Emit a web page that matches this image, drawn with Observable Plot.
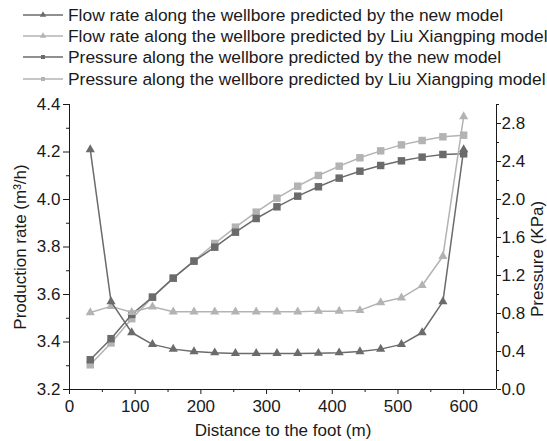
<!DOCTYPE html>
<html><head><meta charset="utf-8">
<script src="https://cdn.jsdelivr.net/npm/d3@7"></script>
<script src="https://cdn.jsdelivr.net/npm/@observablehq/plot@0.6"></script>
<style>
body{margin:0;background:#fff;font-family:"Liberation Sans",Arial,sans-serif;}
#legend{position:relative;height:90px;width:547px;}
.row{position:absolute;left:23px;height:20px;display:flex;align-items:center;font-size:17.4px;color:#1a1a1a;white-space:nowrap}
.row svg{margin-right:5px}
</style></head><body>
<div id="legend"></div><div id="chart"></div>
<script>
// Data
const distance = [31.6, 63.2, 94.7, 126.3, 157.9, 189.5, 221.1, 252.6, 284.2, 315.8, 347.4, 378.9, 410.5, 442.1, 473.7, 505.3, 536.8, 568.4, 600];
const flowNew = [4.21, 3.57, 3.44, 3.39, 3.37, 3.36, 3.355, 3.352, 3.352, 3.352, 3.352, 3.353, 3.355, 3.36, 3.37, 3.39, 3.44, 3.57, 4.21];
const flowLiu = [3.524, 3.55, 3.525, 3.548, 3.527, 3.527, 3.527, 3.527, 3.527, 3.527, 3.527, 3.53, 3.53, 3.533, 3.566, 3.586, 3.638, 3.761, 4.349];
const pressureNew = [0.313, 0.535, 0.79, 0.972, 1.172, 1.351, 1.498, 1.656, 1.8, 1.923, 2.035, 2.134, 2.225, 2.298, 2.358, 2.407, 2.446, 2.474, 2.481];
const pressureLiu = [0.26, 0.49, 0.745, 0.972, 1.172, 1.354, 1.537, 1.709, 1.867, 2.014, 2.14, 2.253, 2.351, 2.439, 2.512, 2.575, 2.621, 2.66, 2.677];

const xTicks = [0, 100, 200, 300, 400, 500, 600];
const xMinor = [50, 150, 250, 350, 450, 550];
const leftTicks = [3.2, 3.4, 3.6, 3.8, 4.0, 4.2, 4.4];
const leftMinor = [3.3, 3.5, 3.7, 3.9, 4.1, 4.3];
const rightTicks = [0.0, 0.4, 0.8, 1.2, 1.6, 2.0, 2.4, 2.8];
const rightMinor = [0.2, 0.6, 1.0, 1.4, 1.8, 2.2, 2.6, 3.0];

const seriesNames = [
  "Flow rate along the wellbore predicted by the new model",
  "Flow rate along the wellbore predicted by Liu Xiangping model",
  "Pressure along the wellbore predicted by the new model",
  "Pressure along the wellbore predicted by Liu Xiangping model"
];
const dark = "#6b6b6b", light = "#b3b3b3";
const seriesColors = [dark, light, dark, light];
const seriesSymbols = ["triangle", "triangle", "square", "square"];

// pressure axis mapped onto the production-rate scale
const yMin = 3.2, yMax = 4.4, pMax = 3.0;
const toY = p => yMin + p * (yMax - yMin) / pMax;
const fromY = v => (v - yMin) * pMax / (yMax - yMin);

// Legend
const legend = d3.select("#legend");
const rowTops = [5, 26, 47, 69];
seriesNames.forEach((name, i) => {
  const row = legend.append("div").attr("class", "row").style("top", rowTops[i] + "px");
  const svg = row.append("svg").attr("width", 40).attr("height", 20);
  svg.append("line").attr("x1", 0).attr("x2", 40).attr("y1", 10).attr("y2", 10)
    .attr("stroke", seriesColors[i]).attr("stroke-width", 1.5);
  const sym = seriesSymbols[i] === "triangle" ? d3.symbolTriangle : d3.symbolSquare;
  svg.append("path").attr("d", d3.symbol(sym, seriesSymbols[i] === "triangle" ? 18 : 16)())
    .attr("transform", "translate(20,10)").attr("fill", seriesColors[i]);
  row.append("span").text(name);
});

const xOf = (d, i) => distance[i];
const chart = Plot.plot({
  width: 547, height: 351,
  marginTop: 14, marginBottom: 52, marginLeft: 69, marginRight: 51,
  style: {fontSize: "17px", fontFamily: "'Liberation Sans', Arial, sans-serif", color: "#1a1a1a", background: "white"},
  x: {domain: [0, 650]},
  y: {domain: [yMin, yMax]},
  marks: [
    Plot.axisX(xTicks, {tickSize: 5, tickPadding: 5, label: null, tickFormat: d => String(d)}),
    Plot.axisX(xMinor, {tickSize: 3, tickFormat: () => "", label: null}),
    Plot.axisY(leftTicks, {anchor: "left", tickSize: 6, tickPadding: 3, tickFormat: d => d.toFixed(1), label: null}),
    Plot.axisY(leftMinor, {anchor: "left", tickSize: 3, tickFormat: () => "", label: null}),
    Plot.axisY(rightTicks.map(toY), {anchor: "right", tickSize: 4, tickPadding: 1, tickFormat: v => fromY(v).toFixed(1), label: null}),
    Plot.axisY(rightMinor.map(toY), {anchor: "right", tickSize: 2, tickFormat: () => "", label: null}),
    Plot.ruleX([0, 650], {stroke: "#1a1a1a"}),
    Plot.ruleY([yMin], {stroke: "#1a1a1a"}),
    Plot.text(["Distance to the foot (m)"], {frameAnchor: "bottom", dy: 41, lineAnchor: "middle", textAnchor: "middle", fontSize: 17}),
    Plot.text(["Production rate (m³/h)"], {frameAnchor: "left", dx: -49, rotate: -90, lineAnchor: "middle", textAnchor: "middle", fontSize: 17}),
    Plot.text(["Pressure (KPa)"], {frameAnchor: "right", dx: 41, dy: 12, rotate: -90, lineAnchor: "middle", textAnchor: "middle", fontSize: 17}),

    Plot.line(pressureLiu, {x: xOf, y: p => toY(p), stroke: light, strokeWidth: 1.5}),
    Plot.dot(pressureLiu, {x: xOf, y: p => toY(p), symbol: "square", r: 4.2, fill: light}),
    Plot.line(pressureNew, {x: xOf, y: p => toY(p), stroke: dark, strokeWidth: 1.5}),
    Plot.dot(pressureNew, {x: xOf, y: p => toY(p), symbol: "square", r: 4.2, fill: dark}),
    Plot.line(flowLiu, {x: xOf, y: d => d, stroke: light, strokeWidth: 1.5}),
    Plot.dot(flowLiu, {x: xOf, y: d => d, symbol: "triangle", r: 3.4, fill: light}),
    Plot.line(flowNew, {x: xOf, y: d => d, stroke: dark, strokeWidth: 1.5}),
    Plot.dot(flowNew, {x: xOf, y: d => d, symbol: "triangle", r: 3.4, fill: dark})
  ]
});
document.getElementById("chart").appendChild(chart);
</script></body></html>
